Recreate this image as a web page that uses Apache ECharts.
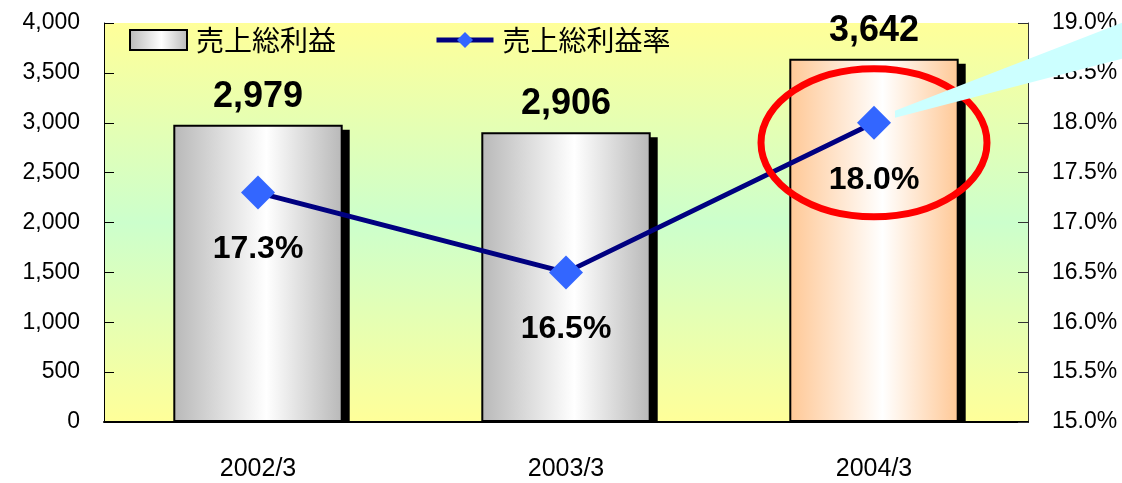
<!DOCTYPE html>
<html><head><meta charset="utf-8">
<script src="https://cdn.jsdelivr.net/npm/echarts@6/dist/echarts.min.js"></script>
<style>html,body{margin:0;padding:0;background:#fff}#c{width:1122px;height:483px}</style>
</head><body><div id="c"></div>
<script>
const categories = ['2002/3', '2003/3', '2004/3'];
const grossProfit = [2979, 2906, 3642];
const grossMargin = [17.3, 16.5, 18.0];
const leftTicks = {min: 0, max: 4000, interval: 500};
const rightTicks = {min: 15, max: 19, interval: 0.5};
const highlightIndex = 2;

const FONT = '"Liberation Sans", Arial, sans-serif';
const JFONT = '"Noto Sans CJK JP", sans-serif';

function grad(edge) {
  return new echarts.graphic.LinearGradient(0, 0, 1, 0, [
    {offset: 0, color: edge}, {offset: 0.55, color: '#FFFFFF'}, {offset: 1, color: edge}
  ]);
}

const chart = echarts.init(document.getElementById('c'), null, {renderer: 'canvas'});
const option = {
  animation: false,
  grid: {
    left: 104, right: 94, top: 23, bottom: 61, show: true, borderWidth: 0,
    backgroundColor: new echarts.graphic.LinearGradient(0, 0, 0, 1, [
      {offset: 0, color: '#FFFF99'}, {offset: 0.5, color: '#CCFFCC'}, {offset: 1, color: '#FFFF99'}
    ])
  },
  legend: {
    left: 124, top: 21, itemWidth: 57, itemHeight: 20, itemGap: 98,
    textStyle: {fontFamily: JFONT, fontSize: 28, color: '#000', padding: [0, 0, 0, 4]},
    data: [
      {name: '売上総利益', icon: 'rect', itemStyle: {color: grad('#B8B8B8'), borderColor: '#000', borderWidth: 2}},
      {name: '売上総利益率', lineStyle: {width: 5, color: '#000080'}, itemStyle: {color: '#3366FF'}}
    ]
  },
  xAxis: {
    type: 'category', data: categories,
    axisLine: {lineStyle: {color: '#000', width: 2}},
    axisTick: {show: false},
    axisLabel: {fontFamily: FONT, fontSize: 25, color: '#000', margin: 35}
  },
  yAxis: [
    {
      type: 'value', min: leftTicks.min, max: leftTicks.max, interval: leftTicks.interval,
      axisLine: {show: true, lineStyle: {color: '#000', width: 1}},
      axisTick: {show: true, inside: true, length: 10, lineStyle: {color: '#000'}},
      splitLine: {show: false},
      axisLabel: {fontFamily: FONT, fontSize: 23, color: '#000', margin: 24,
        formatter: v => v.toLocaleString('en-US')}
    },
    {
      type: 'value', min: rightTicks.min, max: rightTicks.max, interval: rightTicks.interval,
      position: 'right',
      axisLine: {show: true, lineStyle: {color: '#333', width: 1}},
      axisTick: {show: true, inside: true, length: 10, lineStyle: {color: '#333'}},
      splitLine: {show: false},
      axisLabel: {fontFamily: FONT, fontSize: 23, color: '#000', margin: 24,
        formatter: v => v.toFixed(1) + '%'}
    }
  ],
  series: [
    {
      name: 'shadow', type: 'custom', yAxisIndex: 0, z: 1, silent: true,
      data: grossProfit.map((v, i) => [i, v]),
      renderItem: function (params, api) {
        const top = api.coord([api.value(0), api.value(1)]);
        const base = api.coord([api.value(0), 0]);
        const w = api.size([1, 0])[0] * 0.55;
        const y0 = top[1] + 5;
        return {
          type: 'rect',
          shape: {x: top[0] - w / 2 + 7, y: y0, width: w, height: base[1] - y0},
          style: {fill: '#000'}
        };
      }
    },
    {
      name: '売上総利益', type: 'bar', yAxisIndex: 0, barWidth: '55%', z: 2,
      data: grossProfit.map((v, i) => ({
        value: v,
        itemStyle: {color: grad(i === highlightIndex ? '#FFC896' : '#B8B8B8')}
      })),
      itemStyle: {borderColor: '#000', borderWidth: 2},
      label: {show: true, position: 'top', distance: 10, fontFamily: FONT, fontWeight: 'bold', fontSize: 36, color: '#000',
        formatter: p => p.value.toLocaleString('en-US')}
    },
    {
      name: '売上総利益率', type: 'line', yAxisIndex: 1, data: grossMargin,
      symbol: 'diamond', symbolSize: 34,
      lineStyle: {color: '#000080', width: 5},
      itemStyle: {color: '#3366FF'},
      label: {show: true, position: 'bottom', distance: 24, fontFamily: FONT, fontWeight: 'bold', fontSize: 32, color: '#000',
        formatter: p => p.value.toFixed(1) + '%'},
      z: 5
    }
  ]
};
chart.setOption(option);

const pt = chart.convertToPixel({seriesIndex: 2}, [highlightIndex, grossMargin[highlightIndex]]);
chart.setOption({
  graphic: [
    {
      type: 'polygon', z: 100, silent: true,
      shape: {points: [[pt[0] + 21, pt[1] - 12], [1122, pt[1] - 100], [1122, pt[1] - 64], [pt[0] + 21, pt[1] - 5]]},
      style: {fill: '#CCFFFF'}
    },
    {
      type: 'ellipse', z: 99, silent: true,
      shape: {cx: pt[0], cy: pt[1] + 20, rx: 113, ry: 74},
      style: {fill: 'none', stroke: '#FF0000', lineWidth: 7}
    }
  ]
});
</script></body></html>
